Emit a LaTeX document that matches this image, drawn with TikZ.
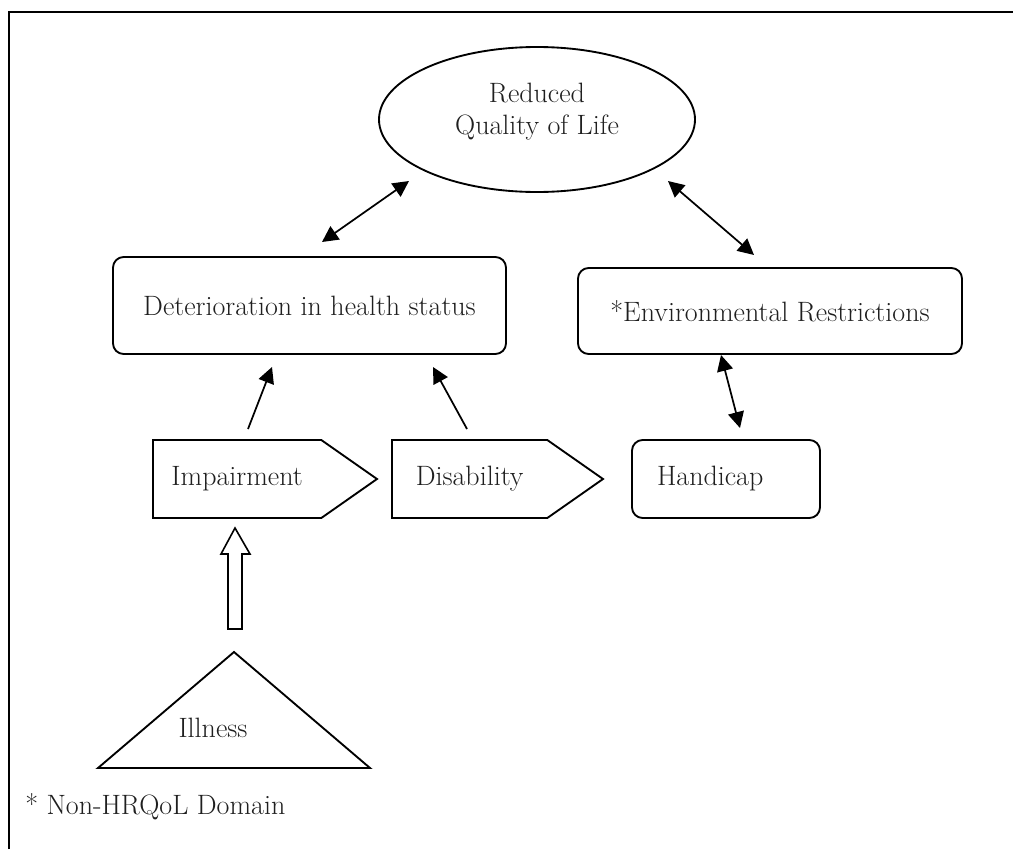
\documentclass[tikz,border=0pt]{standalone}
\usepackage{fontspec}
\usepackage{xcolor}
\usetikzlibrary{arrows.meta, shapes.geometric, shapes.symbols}
\definecolor{labeltext}{HTML}{1F1F1F}
\tikzset{
    qolell/.style={ellipse, draw, line width=1.4pt, minimum width=237pt, minimum height=108.75pt,
    inner sep=0pt, outer sep=0pt, align=center, text=labeltext},
    statebox/.style={rectangle, rounded corners=8pt, draw, line width=1.4pt, outer sep=0pt,
    align=center, text=labeltext},
    stagebox/.style={signal, signal to=east, signal pointer angle=70, draw, line width=1.4pt,
    minimum height=58.5pt, outer sep=0pt, text=labeltext},
    plain/.style={text=labeltext, inner sep=0pt},
    dblarr/.style={{Triangle[length=12pt, width=12pt]}-{Triangle[length=12pt, width=12pt]}, line width=1.3pt},
    onearr/.style={-{Triangle[length=12pt, width=12pt]}, line width=1.3pt},
    hollow/.style={draw, line width=1.2pt, fill=white, line join=miter},
}

\begin{document}
\begin{tikzpicture}[x=0.75pt, y=-0.75pt, font=\fontsize{21}{24}\selectfont]

        \useasboundingbox (0,0) rectangle (1013,849);
        \draw[line width=2.2pt] (9,849) -- (9,12) -- (1013,12);

% =========================================================
% Top: quality of life and the two outcome boxes
% =========================================================

        \node[qolell, text depth=16pt] (qol) at (537,119.5) {Reduced\\Quality of Life};
        \node[statebox, minimum width=294.75pt, minimum height=72.75pt] (det) at (309.5,305.5) {Deterioration in health status};
        \node[statebox, minimum width=288pt, minimum height=64.5pt] (env) at (770,311) {*Environmental Restrictions};

% =========================================================
% Middle: impairment -> disability -> handicap
% =========================================================

        \node[stagebox, minimum width=168pt, anchor=west] (imp) at (153,479) {Impairment};
        \node[stagebox, minimum width=158.25pt, anchor=west] (dis) at (392,479) {Disability};
        \node[statebox, minimum width=141pt, minimum height=58.5pt, text width=103.5pt,
            inner xsep=18.75pt, align=left] (hand) at (726,479) {Handicap};

% Bottom: illness triangle and footnote
        \node[plain] (ill) at (213,728) {Illness};
        \coordinate (illtop) at ([shift={(21,-76)}]ill.center);
        \draw[line width=1.4pt] (illtop) -- ++(136,116) -- ++(-272,0) -- cycle;

        \node[plain, anchor=west] (note) at (25,807) {* Non-HRQoL Domain};

% connectors
        \draw[dblarr] ([shift={(12.5,-15)}]det.north) -- ([shift={(-128,-11)}]qol.south);
        \draw[dblarr] ([shift={(131,-11)}]qol.south) -- ([shift={(-16,-13)}]env.north);
        \draw[dblarr] ([shift={(-49,1)}]env.south) -- ([shift={(14,-12)}]hand.north);
        \draw[onearr] ([shift={(95,-50)}]imp.west) -- ([shift={(-37.5,13)}]det.south);
        \draw[onearr] ([shift={(75,-50)}]dis.west) -- ([shift={(123.5,13)}]det.south);

        \draw[hollow] ([shift={(-6,-23)}]illtop) -- ++(0,-75) -- ++(-7,0) -- ++(14,-26)
            -- ++(15,26) -- ++(-8,0) -- ++(0,75) -- cycle;

\end{tikzpicture}
\end{document}
